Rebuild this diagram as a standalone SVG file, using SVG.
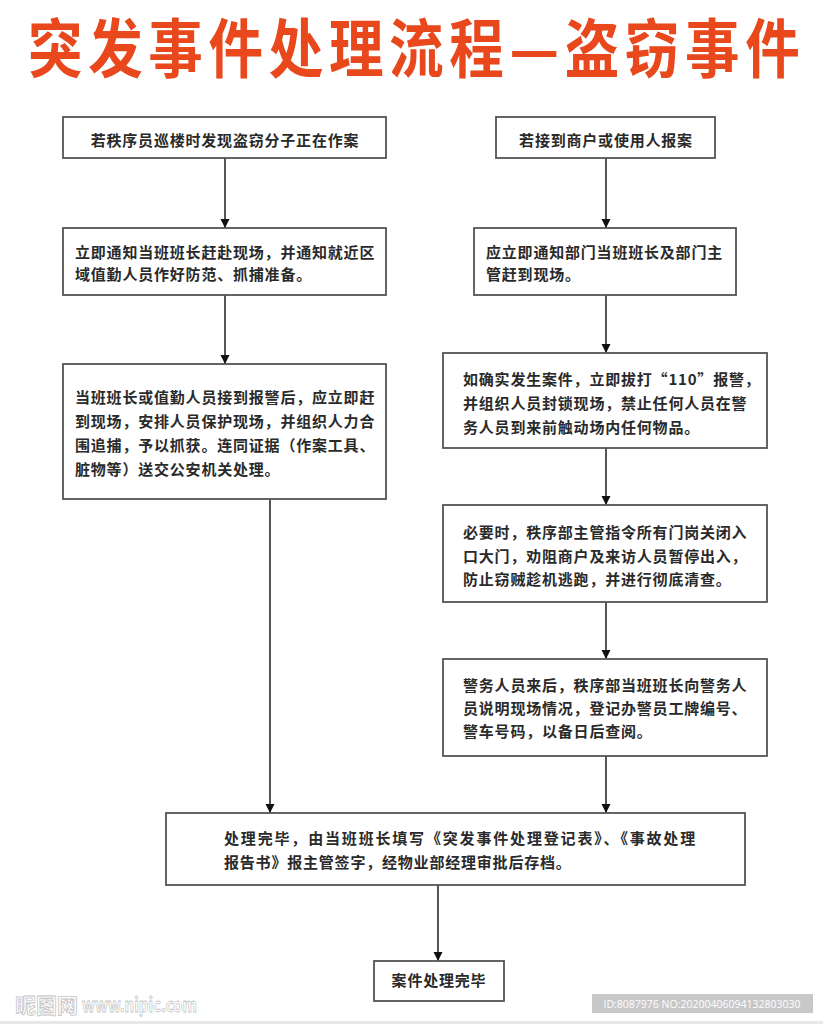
<svg xmlns="http://www.w3.org/2000/svg" width="823" height="1024" viewBox="0 0 823 1024">
<defs>
<style>
.box{fill:#fff;stroke:#555;stroke-width:1.8}
.t{font-family:"Noto Sans CJK SC","Noto Sans",sans-serif;font-size:15px;font-weight:bold;fill:#2a2a2a;letter-spacing:0.8px}
.c{text-anchor:middle}
.ln{stroke:#444;stroke-width:1.8;fill:none}
.title{font-family:"Noto Sans CJK SC",sans-serif;font-weight:bold;font-size:62px;fill:#E9471C}
.wm{font-family:"Noto Sans CJK SC",sans-serif;font-weight:bold;fill:#fff;stroke:#c4c4c4;stroke-width:0.8}
</style>
<marker id="arr" viewBox="0 0 10 10" refX="10" refY="5" markerWidth="9" markerHeight="11" markerUnits="userSpaceOnUse" orient="auto">
<path d="M0,0 L10,5 L0,10 z" fill="#111"/>
</marker>
</defs>
<rect width="823" height="1024" fill="#fff"/>
<g id="title">
<text class="title" transform="translate(28,72) scale(0.88,1.02)" x="0" y="0" textLength="877" lengthAdjust="spacing">突发事件处理流程—盗窃事件</text>
</g>
<g id="connectors">
<line class="ln" x1="225" y1="158" x2="225" y2="228" marker-end="url(#arr)"/>
<line class="ln" x1="225" y1="295" x2="225" y2="364" marker-end="url(#arr)"/>
<line class="ln" x1="606" y1="158" x2="606" y2="228" marker-end="url(#arr)"/>
<line class="ln" x1="606" y1="295" x2="606" y2="353" marker-end="url(#arr)"/>
<line class="ln" x1="606" y1="448" x2="606" y2="505" marker-end="url(#arr)"/>
<line class="ln" x1="606" y1="602" x2="606" y2="659" marker-end="url(#arr)"/>
<line class="ln" x1="270" y1="499" x2="270" y2="813" marker-end="url(#arr)"/>
<line class="ln" x1="606" y1="756" x2="606" y2="813" marker-end="url(#arr)"/>
<line class="ln" x1="438" y1="885" x2="438" y2="961" marker-end="url(#arr)"/>
</g>
<g id="node-l1">
<rect class="box" x="63" y="117" width="323" height="41"/>
<text class="t c" x="225" y="146">若秩序员巡楼时发现盗窃分子正在作案</text>
</g>
<g id="node-r1">
<rect class="box" x="496" y="117" width="219" height="41"/>
<text class="t c" x="606" y="146">若接到商户或使用人报案</text>
</g>
<g id="node-l2">
<rect class="box" x="63" y="228" width="323" height="67"/>
<text class="t" x="75" y="258">立即通知当班班长赶赴现场，并通知就近区</text>
<text class="t" x="75" y="280">域值勤人员作好防范、抓捕准备。</text>
</g>
<g id="node-r2">
<rect class="box" x="474" y="228" width="262" height="67"/>
<text class="t" x="486" y="258">应立即通知部门当班班长及部门主</text>
<text class="t" x="486" y="280">管赶到现场。</text>
</g>
<g id="node-l3">
<rect class="box" x="63" y="364" width="323" height="135"/>
<text class="t" x="75" y="403">当班班长或值勤人员接到报警后，应立即赶</text>
<text class="t" x="75" y="427">到现场，安排人员保护现场，并组织人力合</text>
<text class="t" x="75" y="451">围追捕，予以抓获。连同证据（作案工具、</text>
<text class="t" x="75" y="475">脏物等）送交公安机关处理。</text>
</g>
<g id="node-r3">
<rect class="box" x="443" y="353" width="324" height="95"/>
<text class="t" x="463" y="385">如确实发生案件，立即拔打“110”报警，</text>
<text class="t" x="463" y="409">并组织人员封锁现场，禁止任何人员在警</text>
<text class="t" x="463" y="433">务人员到来前触动场内任何物品。</text>
</g>
<g id="node-r4">
<rect class="box" x="443" y="505" width="324" height="97"/>
<text class="t" x="463" y="538">必要时，秩序部主管指令所有门岗关闭入</text>
<text class="t" x="463" y="562">口大门，劝阻商户及来访人员暂停出入，</text>
<text class="t" x="463" y="585">防止窃贼趁机逃跑，并进行彻底清查。</text>
</g>
<g id="node-r5">
<rect class="box" x="443" y="659" width="324" height="97"/>
<text class="t" x="463" y="691">警务人员来后，秩序部当班班长向警务人</text>
<text class="t" x="463" y="714">员说明现场情况，登记办警员工牌编号、</text>
<text class="t" x="463" y="737">警车号码，以备日后查阅。</text>
</g>
<g id="node-done">
<rect class="box" x="166" y="813" width="579" height="72"/>
<text class="t" x="224" y="844" textLength="472" lengthAdjust="spacing">处理完毕，由当班班长填写《突发事件处理登记表》、《事故处理</text>
<text class="t" x="224" y="868">报告书》报主管签字，经物业部经理审批后存档。</text>
</g>
<g id="node-end">
<rect class="box" x="374" y="961" width="130" height="40"/>
<text class="t c" x="439" y="986">案件处理完毕</text>
</g>
<g id="watermark">
<text class="wm" x="15" y="1013" font-size="21">昵图网</text>
<text class="wm" x="82" y="1012" font-size="19" font-family="Liberation Sans, sans-serif" textLength="115" lengthAdjust="spacingAndGlyphs">www.nipic.com</text>
<rect x="592" y="994" width="221" height="19" fill="#c8c8c8"/>
<text x="702" y="1008" text-anchor="middle" font-family="Open Sans, sans-serif" font-size="10.5" fill="#fff">ID:8087976 NO:20200406094132803030</text>
<rect x="0" y="1021" width="823" height="3" fill="#e8e8e8"/>
</g>
</svg>
